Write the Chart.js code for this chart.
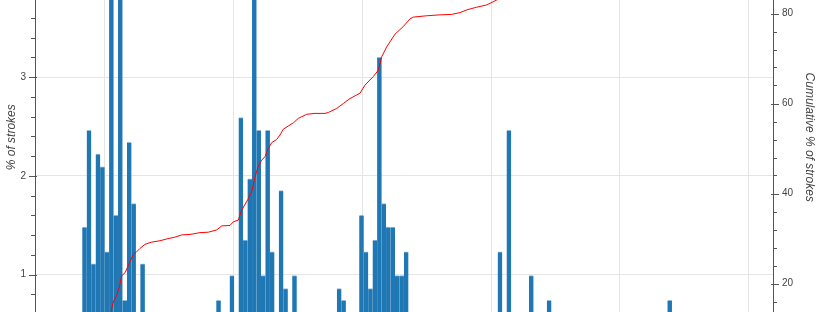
<!DOCTYPE html>
<html>
<head>
<meta charset="utf-8">
<script src="https://cdn.jsdelivr.net/npm/chart.js@4.4.1/dist/chart.umd.min.js"></script>
<style>
  html, body { margin: 0; padding: 0; background: #fff; }
  #frame { position: relative; width: 820px; height: 312px; overflow: hidden; }
  #holder { position: absolute; left: 0; top: -114px; width: 820px; height: 504px; }
</style>
</head>
<body>
<div id="frame">
  <div id="holder"><canvas id="strokes" width="820" height="504" style="width:820px;height:504px"></canvas></div>
</div>
<script>
// histogram bins (bin index) and their share of strokes, %
const binIdx = [0, 1, 2, 3, 4, 5, 6, 7, 8, 9, 10, 11, 13,
  30, 33, 35, 36, 37, 38, 39, 40, 41, 42, 44, 45, 47,
  57, 58, 62, 63, 64, 65, 66, 67, 68, 69, 70, 71, 72,
  93, 95, 100, 104, 131];
const pct = [1.48, 2.46, 1.11, 2.22, 2.09, 1.23, 4.43, 1.60, 4.55, 0.74, 2.34, 1.72, 1.11,
  0.74, 0.99, 2.59, 1.35, 1.97, 4.31, 2.46, 0.99, 2.46, 1.23, 1.85, 0.86, 0.99,
  0.86, 0.74, 1.60, 1.23, 0.86, 1.35, 3.20, 1.72, 1.48, 1.48, 0.99, 0.99, 1.23,
  1.23, 2.46, 0.99, 0.74, 0.74];

// cumulative curve (x in bin units)
const cumX = [-0.5, 3.46, 4.58, 5.93, 6.44, 7.20, 7.78, 8.32, 9.06, 10.18, 10.92, 11.52, 12.42,
  13.54, 15.04, 16.90, 18.40, 20.25, 21.75, 23.61, 25.85, 27.71, 29.59, 30.71, 32.57,
  33.30, 34.42, 35.18, 36.53, 37.42, 38.16, 38.90, 39.66, 40.40, 41.14, 41.90, 43.02,
  43.76, 44.50, 45.62, 46.74, 47.86, 49.74, 51.59, 53.83, 54.57, 56.45, 57.93, 59.43,
  60.55, 61.67, 62.79, 64.65, 65.77, 66.53, 67.65, 69.50, 71.36, 72.86, 73.60, 76.60,
  79.58, 82.20, 84.06, 85.55, 87.79, 90.03, 92.27, 95.25, 106.4, 115.4, 128.8, 131.5];
const cumY = [0, 4.5, 8.0, 13.7, 15.9, 17.4, 19.2, 21.7, 22.4, 24.8, 26.5, 26.9, 27.8,
  28.7, 29.2, 29.5, 29.9, 30.3, 30.8, 30.9, 31.3, 31.4, 31.9, 32.8, 32.9,
  33.7, 34.1, 36.3, 38.6, 40.4, 43.7, 46.1, 47.4, 48.2, 50.0, 51.3, 52.0,
  53.0, 54.3, 55.0, 55.7, 56.7, 57.6, 57.8, 57.8, 58.0, 58.9, 60.0, 61.1,
  61.7, 62.3, 64.1, 66.0, 67.4, 70.4, 72.6, 75.4, 77.1, 78.8, 79.2, 79.5,
  79.7, 79.8, 80.2, 80.8, 81.4, 81.9, 83.0, 84.5, 88.5, 91.0, 95.0, 100];

// vertical grid positions (bin units)
const gridX = [4.54, 33.37, 62.2, 91.0, 119.8, 148.7];

const AXIS = '#555';
const TEXT = '#444';
const GRID = '#e5e5e5';

Chart.defaults.font.family = '"Liberation Sans", Arial, Helvetica, sans-serif';

// bokeh-like tick marks: major ticks poke in 2px, minor ticks outside only
const tickMarks = {
  id: 'tickMarks',
  afterDraw(chart) {
    const ctx = chart.ctx;
    ctx.save();
    ctx.strokeStyle = AXIS;
    ctx.lineWidth = 1;
    const draw = (scale, step, minorStep, left) => {
      const x0 = left ? scale.right : scale.left;
      const dir = left ? -1 : 1;
      ctx.beginPath();
      for (let v = 0; v <= scale.max + 1e-9; v += minorStep) {
        const y = Math.round(scale.getPixelForValue(v)) + 0.5;
        const major = Math.abs(v / step - Math.round(v / step)) < 1e-6;
        if (major) {
          ctx.moveTo(x0 - dir * 2, y);
          ctx.lineTo(x0 + dir * 6, y);
        } else {
          ctx.moveTo(x0, y);
          ctx.lineTo(x0 + dir * 4, y);
        }
      }
      ctx.stroke();
    };
    draw(chart.scales.y, 1, 0.2, true);
    draw(chart.scales.y2, 20, 4, false);
    ctx.restore();
  }
};

new Chart(document.getElementById('strokes'), {
  type: 'bar',
  data: {
    datasets: [
      {
        type: 'line',
        label: 'Cumulative',
        data: cumX.map((x, i) => ({ x: x, y: cumY[i] })),
        yAxisID: 'y2',
        borderColor: '#ff0000',
        borderWidth: 1,
        pointRadius: 0,
        tension: 0,
        fill: false,
        order: 0
      },
      {
        label: '% of strokes',
        data: binIdx.map((b, i) => ({ x: b, y: pct[i] })),
        yAxisID: 'y',
        backgroundColor: '#1f77b4',
        borderColor: 'rgba(31,119,180,0.5)',
        borderWidth: { top: 1, left: 0, right: 0, bottom: 0 },
        borderSkipped: 'bottom',
        inflateAmount: 0.4,
        categoryPercentage: 1,
        barPercentage: 1,
        order: 1
      }
    ]
  },
  options: {
    responsive: false,
    animation: false,
    layout: { padding: { top: 11, left: 0, right: 0, bottom: 0 } },
    plugins: { legend: { display: false }, tooltip: { enabled: false } },
    scales: {
      x: {
        type: 'linear',
        offset: false,
        min: -11.088,
        max: 154.12,
        grid: { color: GRID, drawTicks: false, offset: false },
        border: { display: false },
        ticks: { display: false },
        afterBuildTicks: (scale) => { scale.ticks = gridX.map(v => ({ value: v })); },
        afterFit: (scale) => { scale.height = 16.5; }
      },
      y: {
        position: 'left',
        min: 0,
        max: 4.782,
        grid: { color: GRID, drawTicks: false },
        border: { display: true, color: AXIS, width: 1 },
        ticks: { stepSize: 1, padding: 9, color: TEXT, font: { size: 10 } },
        title: {
          display: true,
          text: '% of strokes',
          color: TEXT,
          font: { size: 12, style: 'italic' },
          padding: { top: 4.6, bottom: 0 }
        },
        afterFit: (scale) => { scale.width = 35; }
      },
      y2: {
        position: 'right',
        min: 0,
        max: 105,
        grid: { display: false, drawTicks: false },
        border: { display: true, color: AXIS, width: 1 },
        ticks: { stepSize: 20, padding: 9, color: TEXT, font: { size: 10 } },
        title: {
          display: true,
          text: 'Cumulative % of strokes',
          color: TEXT,
          font: { size: 12, style: 'italic' },
          padding: { top: 3.6, bottom: 0 }
        },
        afterFit: (scale) => { scale.width = 47; }
      }
    }
  },
  plugins: [tickMarks]
});
</script>
</body>
</html>
